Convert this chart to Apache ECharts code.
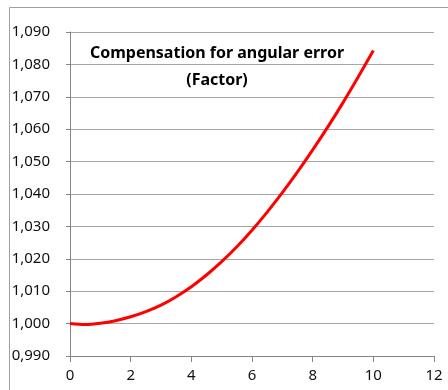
<!DOCTYPE html>
<html>
<head>
<meta charset="utf-8">
<script src="https://cdn.jsdelivr.net/npm/echarts@6/dist/echarts.min.js"></script>
<style>
html,body{margin:0;padding:0;background:#fff;}
#chart{width:448px;height:390px;}
</style>
</head>
<body>
<div id="chart"></div>
<script>
// Data
var angleValues = [0, 0.5, 1, 1.5, 2, 2.5, 3, 3.5, 4, 4.5, 5, 5.5, 6, 6.5, 7, 7.5, 8, 8.5, 9, 9.5, 10];
var factorValues = [1.0000, 0.9997, 1.0001, 1.0009, 1.0021, 1.0037, 1.0057, 1.0083, 1.0114, 1.0150, 1.0191, 1.0237, 1.0288, 1.0344, 1.0404, 1.0468, 1.0536, 1.0607, 1.0682, 1.0761, 1.0843];
var titleLines = ["Compensation for angular error", "(Factor)"];
var yMin = 0.99, yMax = 1.09, yStep = 0.01;
var xMin = 0, xMax = 12, xStep = 2;

var chart = echarts.init(document.getElementById('chart'), null, {renderer: 'canvas'});
var pts = angleValues.map(function (x, i) { return [x, factorValues[i]]; });
var labelFont = 'Noto Sans';

chart.setOption({
  animation: false,
  backgroundColor: '#ffffff',
  grid: {left: 70, right: 14, top: 32, bottom: 34, containLabel: false},
  xAxis: {
    type: 'value', min: xMin, max: xMax, interval: xStep,
    axisLine: {show: true, lineStyle: {color: '#868686', width: 1}},
    axisTick: {show: true, length: 6, lineStyle: {color: '#868686'}},
    splitLine: {show: false},
    axisLabel: {color: '#111', fontFamily: labelFont, fontSize: 15, margin: 12}
  },
  yAxis: {
    type: 'value', min: yMin, max: yMax, interval: yStep,
    axisLine: {show: true, lineStyle: {color: '#868686', width: 1}},
    axisTick: {show: true, length: 4, lineStyle: {color: '#868686'}},
    splitLine: {show: true, lineStyle: {color: '#a6a6a6', width: 1}},
    axisLabel: {
      color: '#111', fontFamily: labelFont, fontSize: 15, margin: 20,
      formatter: function (v) { return v.toFixed(3).replace('.', ','); }
    }
  },
  series: [{
    type: 'line', data: pts, smooth: 0.3, showSymbol: false,
    lineStyle: {color: '#ff0000', width: 3}
  }],
  graphic: [
    {type: 'rect', left: 7, top: 5, shape: {width: 600, height: 600}, style: {fill: 'none', stroke: '#a0a0a0', lineWidth: 1}, silent: true},
    {type: 'text', x: 217, y: 53, style: {text: titleLines[0], fontFamily: labelFont, fontWeight: 'bold', fontSize: 16, fill: '#000', textAlign: 'center', textVerticalAlign: 'middle'}},
    {type: 'text', x: 217, y: 80, style: {text: titleLines[1], fontFamily: labelFont, fontWeight: 'bold', fontSize: 16, fill: '#000', textAlign: 'center', textVerticalAlign: 'middle'}}
  ]
});
</script>
</body>
</html>
